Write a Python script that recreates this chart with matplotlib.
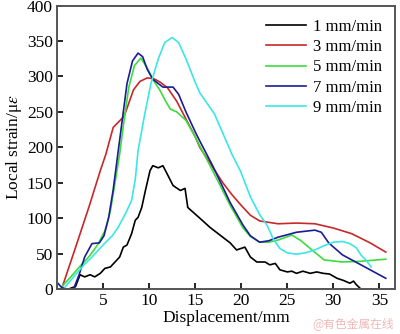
import matplotlib
matplotlib.use("Agg")
import matplotlib.pyplot as plt

plt.rcParams['font.family'] = ['Liberation Serif', 'DejaVu Serif']
plt.rcParams['mathtext.fontset'] = 'stix'

# local strain vs displacement at five loading rates
x1 = [1.3, 1.7, 2.0, 2.5, 3.0, 3.6, 4.1, 4.7, 5.2, 5.8, 6.3, 6.8, 7.2, 7.6, 8.1, 8.5,
      8.8, 9.2, 9.6, 10.1, 10.4, 11.0, 11.5, 11.9, 12.6, 13.4, 13.9, 14.2, 15.5, 16.6,
      17.7, 18.8, 19.5, 20.4, 21.0, 21.7, 22.6, 23.1, 23.7, 24.2, 25.0, 25.5, 26.0,
      26.7, 27.5, 28.2, 28.9, 29.6, 30.4, 31.1, 31.8, 32.2, 32.5, 32.9]
y1 = [0, 2, 3, 20, 17, 20, 17, 22, 29, 31, 38, 45, 59, 62, 78, 97,
      101, 115, 139, 167, 174, 171, 174, 164, 146, 139, 142, 115, 100, 87,
      76, 65, 55, 59, 45, 38, 38, 34, 36, 27, 24, 25, 22,
      25, 22, 24, 22, 21, 15, 12, 8, 11, 6, 1]

x3 = [0.5, 2.0, 3.5, 4.7, 5.3, 6.1, 7.3, 8.3, 9.0, 9.8, 10.5, 11.2, 12.0, 13.0, 14.0,
      15.0, 15.5, 17.0, 18.0, 19.0, 20.0, 21.0, 22.0, 24.0, 26.0, 28.0, 30.0, 32.0,
      34.0, 35.7]
y3 = [0, 58, 117, 167, 190, 228, 244, 281, 293, 298, 297, 292, 284, 265, 240,
      215, 200, 170, 150, 133, 118, 104, 96, 92, 93, 92, 86, 78,
      65, 52]

x5 = [0.5, 1.5, 2.5, 3.5, 4.4, 5.2, 5.8, 6.3, 6.8, 7.3, 7.8, 8.4, 9.1, 9.8, 10.5,
      11.2, 11.8, 12.3, 13.0, 14.0, 15.0, 15.5, 16.9, 18.8, 20.2, 21.0, 22.0, 23.0,
      24.0, 25.5, 26.5, 27.5, 29.0, 31.0, 33.0, 35.7]
y5 = [3, 17, 32, 46, 62, 82, 110, 150, 190, 240, 285, 315, 326, 312, 294,
      280, 265, 254, 250, 238, 215, 202, 167, 118, 86, 74, 66, 66,
      69, 76, 68, 57, 41, 38, 39, 42]

x7 = [0.1, 0.5, 1.0, 1.8, 2.4, 3.0, 3.8, 4.6, 5.1, 5.6, 6.1, 6.6, 7.1, 7.6, 8.2,
      8.8, 9.3, 9.8, 10.4, 11.5, 12.6, 13.2, 14.0, 15.0, 15.5, 16.9, 18.8, 20.2,
      21.0, 22.0, 23.0, 24.0, 26.0, 28.0, 28.7, 29.5, 31.0, 33.0, 35.7]
y7 = [8, 2, 0, 0, 20, 45, 64, 65, 75, 100, 140, 190, 240, 290, 322,
      333, 328, 310, 296, 285, 285, 275, 250, 222, 209, 174, 122, 90,
      75, 66, 68, 73, 80, 83, 80, 65, 48, 34, 15]

x9 = [0.9, 2.0, 3.0, 3.8, 5.0, 6.0, 6.6, 7.5, 8.1, 8.5, 8.8, 9.5, 10.2, 11.0, 11.7,
      12.5, 13.2, 14.0, 15.0, 15.5, 16.3, 17.1, 18.0, 19.0, 19.9, 21.0, 22.0, 22.8,
      23.5, 24.2, 25.0, 26.0, 27.0, 28.0, 29.0, 30.0, 31.0, 31.8, 32.5, 33.0, 33.6,
      34.1]
y9 = [3, 20, 35, 45, 62, 75, 86, 108, 125, 155, 195, 245, 290, 325, 348,
      355, 348, 325, 292, 277, 262, 247, 220, 190, 167, 130, 105, 90,
      70, 57, 51, 49, 51, 55, 61, 66, 67, 64, 58, 48, 40,
      31]

series = [
    (x1, y1, '1 mm/min', '#000000'),
    (x3, y3, '3 mm/min', '#c8282a'),
    (x5, y5, '5 mm/min', '#3ddc3d'),
    (x7, y7, '7 mm/min', '#1c1c96'),
    (x9, y9, '9 mm/min', '#3ce6e6'),
]

fig = plt.figure(figsize=(4.0, 3.34), dpi=100)
ax = fig.add_axes([0.1425, 0.135, 0.845, 0.848])

for xs, ys, name, col in series:
    ax.plot(xs, ys, color=col, lw=1.2, label=name)

ax.set_xlim(0, 36.7)
ax.set_ylim(0, 400)
ax.set_xticks([5, 10, 15, 20, 25, 30, 35])
ax.set_yticks(range(0, 401, 50))
ax.tick_params(direction='in', length=4, width=1.2, labelsize=12.5, pad=3)
for sp in ax.spines.values():
    sp.set_color('#555555')
    sp.set_linewidth(1.4)

ax.set_xlabel('Displacement/mm', fontsize=12.5, labelpad=1)
ax.set_ylabel(r'Local strain/μ$\varepsilon$', fontsize=12.5, labelpad=2)

leg = ax.legend(loc='upper right', frameon=False, fontsize=12, handlelength=2.4,
                handletextpad=0.4, labelspacing=0.25, borderaxespad=0.4,
                bbox_to_anchor=(1.0, 1.0))

fig.text(0.985, 0.03, '@有色金属在线', color='#f0b8b8', fontsize=8.5,
         ha='right', va='center', family=['Noto Sans CJK SC', 'DejaVu Sans'])

fig.savefig('out.png', dpi=100)
